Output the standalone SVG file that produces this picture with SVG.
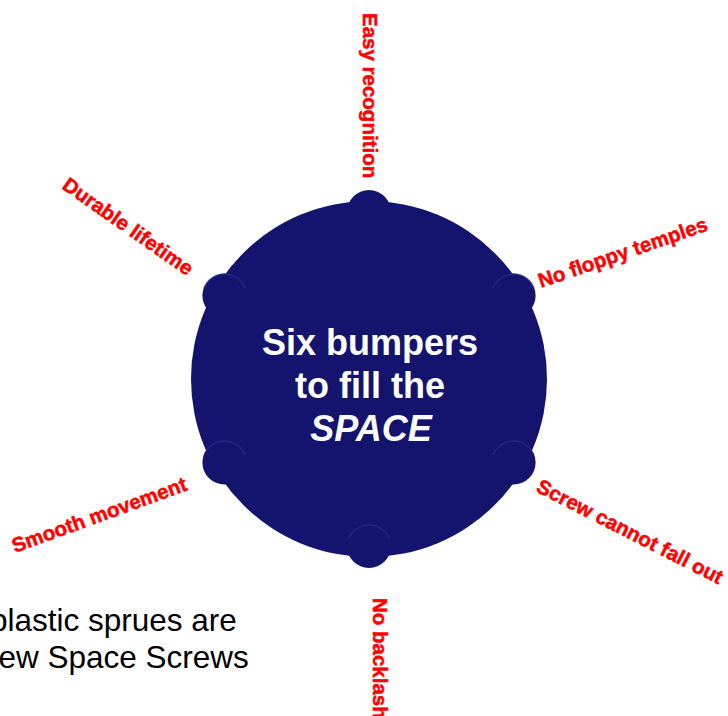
<svg xmlns="http://www.w3.org/2000/svg" width="728" height="716" viewBox="0 0 728 716">
  <style>
    .body { fill: #14146f; }
    .glint { fill: none; stroke: #3a3a92; stroke-width: 1.5; opacity: 0.5; }
    .center { font-family: "Liberation Sans", Arial, sans-serif; font-weight: bold; font-size: 36px; fill: #ffffff; text-anchor: middle; }
    .label { font-family: "Liberation Sans", Arial, sans-serif; font-weight: bold; font-size: 20.5px; fill: #ff0000; stroke: #ff0000; stroke-width: 0.5px; }
    .note { font-family: "Liberation Sans", Arial, sans-serif; font-size: 31.5px; fill: #000000; }
  </style>
  <rect width="728" height="716" fill="#ffffff"/>

  <g id="hub">
    <circle class="body" cx="369" cy="379" r="178"/>
    <circle class="body" cx="369" cy="212" r="22"/>
    <circle class="body" cx="513.6" cy="295.5" r="22"/>
    <circle class="body" cx="513.6" cy="462.5" r="22"/>
    <circle class="body" cx="369" cy="546" r="22"/>
    <circle class="body" cx="224.4" cy="462.5" r="22"/>
    <circle class="body" cx="224.4" cy="295.5" r="22"/>
    <path class="glint" d="M 493 288 A 22 22 0 0 1 534 288"/>
    <path class="glint" d="M 493 455 A 22 22 0 0 1 534 455"/>
    <path class="glint" d="M 348.5 539 A 22 22 0 0 1 389.5 539"/>
    <path class="glint" d="M 204 455 A 22 22 0 0 1 245 455"/>
    <path class="glint" d="M 204 288 A 22 22 0 0 1 245 288"/>
    <text class="center" x="370" y="355">Six bumpers</text>
    <text class="center" x="370" y="398">to fill the</text>
    <text class="center" x="371" y="441" font-style="italic">SPACE</text>
  </g>

  <g id="label-easy-recognition">
    <text class="label" transform="translate(363,13) rotate(90)">Easy recognition</text>
  </g>
  <g id="label-no-floppy-temples">
    <text class="label" transform="translate(541,288) rotate(-19)">No floppy temples</text>
  </g>
  <g id="label-screw-cannot-fall-out">
    <text class="label" transform="translate(535,491) rotate(27)">Screw cannot fall out</text>
  </g>
  <g id="label-no-backlash">
    <text class="label" transform="translate(373,598) rotate(90)">No backlash</text>
  </g>
  <g id="label-smooth-movement">
    <text class="label" transform="translate(15,553) rotate(-20)">Smooth movement</text>
  </g>
  <g id="label-durable-lifetime">
    <text class="label" transform="translate(61,188) rotate(35)">Durable lifetime</text>
  </g>

  <g id="connectors"></g>

  <g id="note">
    <text class="note" x="-10" y="631">plastic sprues are</text>
    <text class="note" x="-19" y="668">new Space Screws</text>
  </g>
</svg>
